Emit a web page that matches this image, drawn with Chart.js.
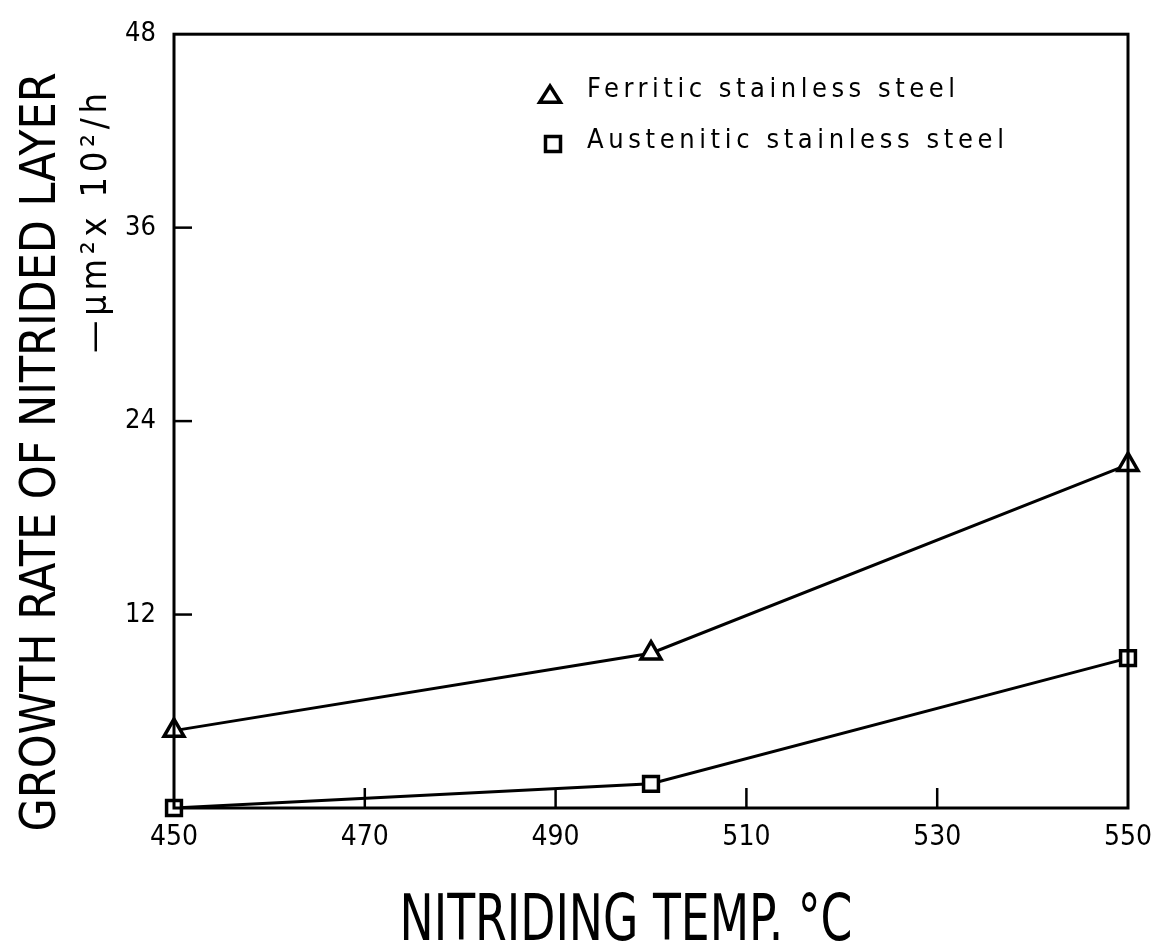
<!DOCTYPE html>
<html>
<head>
<meta charset="utf-8">
<script src="https://cdn.jsdelivr.net/npm/chart.js@4/dist/chart.umd.min.js"></script>
<style>
  html, body { margin: 0; padding: 0; background: #fff; }
  canvas { display: block; }
</style>
</head>
<body>
<canvas id="c" width="1153" height="944"></canvas>
<script>
// ---- data ----
const temps = [450, 500, 550];
const ferritic = [4.8, 9.6, 21.3];
const austenitic = [0, 1.5, 9.3];
const seriesNames = ['Ferritic stainless steel', 'Austenitic stainless steel'];
const xTickValues = [450, 470, 490, 510, 530, 550];
const yTickValues = [0, 12, 24, 36, 48];
const xTitle = 'NITRIDING TEMP. °C';
const yTitle1 = 'GROWTH RATE OF NITRIDED LAYER';
const yTitle2 = '—μm²x 10²/h';

const FONT = "'DejaVu Sans Condensed', 'Liberation Sans Narrow', 'DejaVu Sans', sans-serif";

function fitText(ctx, text, x, y, targetW, font, align) {
  ctx.save();
  ctx.font = font;
  ctx.textBaseline = 'alphabetic';
  ctx.textAlign = 'left';
  const w = ctx.measureText(text).width;
  let startX = align === 'center' ? x - targetW / 2 : x;
  if ('letterSpacing' in ctx) {
    const ls = (targetW - w) / Math.max(1, text.length - 1);
    if (ls >= -1) {
      ctx.letterSpacing = ls.toFixed(2) + 'px';
      ctx.fillText(text, startX, y);
      ctx.restore();
      return;
    }
  }
  ctx.translate(startX, y);
  ctx.scale(targetW / w, 1);
  ctx.fillText(text, 0, 0);
  ctx.restore();
}

const decorPlugin = {
  id: 'decor',
  afterDatasetsDraw(chart) {
    const ctx = chart.ctx;
    const a = chart.chartArea;
    const xs = chart.scales.x, ys = chart.scales.y;
    ctx.save();
    ctx.strokeStyle = '#000';
    ctx.lineWidth = 3;
    ctx.strokeRect(a.left, a.top, a.right - a.left, a.bottom - a.top);
    ctx.lineWidth = 2.5;
    ys.ticks.forEach(t => {
      if (t.value === ys.min || t.value === ys.max) return;
      const py = ys.getPixelForValue(t.value);
      ctx.beginPath(); ctx.moveTo(a.left, py); ctx.lineTo(a.left + 18, py); ctx.stroke();
    });
    xs.ticks.forEach(t => {
      if (t.value === xs.min || t.value === xs.max) return;
      const px = xs.getPixelForValue(t.value);
      ctx.beginPath(); ctx.moveTo(px, a.bottom); ctx.lineTo(px, a.bottom - 20); ctx.stroke();
    });
    ctx.restore();
  },
  afterDraw(chart) {
    const ctx = chart.ctx;
    ctx.save();
    ctx.fillStyle = '#000';
    ctx.strokeStyle = '#000';
    fitText(ctx, xTitle, 626, 940, 453, '64px ' + FONT, 'center');
    ctx.save();
    ctx.translate(55, 452);
    ctx.rotate(-Math.PI / 2);
    fitText(ctx, yTitle1, 0, 0, 759, '50px ' + FONT, 'center');
    ctx.restore();
    ctx.save();
    ctx.translate(106, 223);
    ctx.rotate(-Math.PI / 2);
    fitText(ctx, yTitle2, 0, 0, 260, '36px ' + FONT, 'center');
    ctx.restore();

    const legendRows = [
      { cx: 550, cy: 95, tx: 587, ty: 97, w: 368 },
      { cx: 553, cy: 144, tx: 587, ty: 148, w: 417 }
    ];
    chart.data.datasets.forEach((ds, i) => {
      const r = legendRows[i];
      ctx.lineWidth = 3.5;
      ctx.beginPath();
      if (ds.pointStyle === 'triangle') {
        const s = 9;
        ctx.moveTo(r.cx, r.cy - s);
        ctx.lineTo(r.cx + s * 1.15, r.cy + s * 0.8);
        ctx.lineTo(r.cx - s * 1.15, r.cy + s * 0.8);
        ctx.closePath();
      } else {
        ctx.rect(r.cx - 7.5, r.cy - 7.5, 15, 15);
      }
      ctx.stroke();
      fitText(ctx, ds.label, r.tx, r.ty, r.w, '27px ' + FONT, 'left');
    });
    ctx.restore();
  }
};

new Chart(document.getElementById('c'), {
  type: 'line',
  data: {
    datasets: [
      {
        label: seriesNames[0],
        data: temps.map((t, i) => ({ x: t, y: ferritic[i] })),
        borderColor: '#000', borderWidth: 3,
        pointStyle: 'triangle', pointRadius: 11.5,
        pointBorderColor: '#000', pointBackgroundColor: '#fff', pointBorderWidth: 3.5,
        tension: 0, clip: false
      },
      {
        label: seriesNames[1],
        data: temps.map((t, i) => ({ x: t, y: austenitic[i] })),
        borderColor: '#000', borderWidth: 3,
        pointStyle: 'rect', pointRadius: 10.5,
        pointBorderColor: '#000', pointBackgroundColor: '#fff', pointBorderWidth: 3.5,
        tension: 0, clip: false
      }
    ]
  },
  options: {
    responsive: false,
    animation: false,
    devicePixelRatio: 1,
    layout: { padding: { top: 33, right: 25, left: 0, bottom: 0 } },
    plugins: { legend: { display: false }, tooltip: { enabled: false } },
    scales: {
      x: {
        type: 'linear',
        min: xTickValues[0], max: xTickValues[xTickValues.length - 1],
        afterBuildTicks: s => { s.ticks = xTickValues.map(v => ({ value: v })); },
        afterFit: s => { s.height = 136; s.paddingLeft = 0; s.paddingRight = 0; },
        grid: { display: true, drawOnChartArea: false, drawTicks: false },
        border: { display: false },
        ticks: { color: '#000', padding: 13, font: { family: FONT, size: 28 }, maxRotation: 0 }
      },
      y: {
        type: 'linear',
        min: yTickValues[0], max: yTickValues[yTickValues.length - 1],
        afterBuildTicks: s => { s.ticks = yTickValues.map(v => ({ value: v })); },
        afterFit: s => { s.width = 174; },
        grid: { display: true, drawOnChartArea: false, drawTicks: false },
        border: { display: false },
        ticks: { color: '#000', padding: 18, font: { family: FONT, size: 27 },
                 callback: v => (v === 0 ? '' : String(v)) }
      }
    }
  },
  plugins: [decorPlugin]
});
</script>
</body>
</html>
